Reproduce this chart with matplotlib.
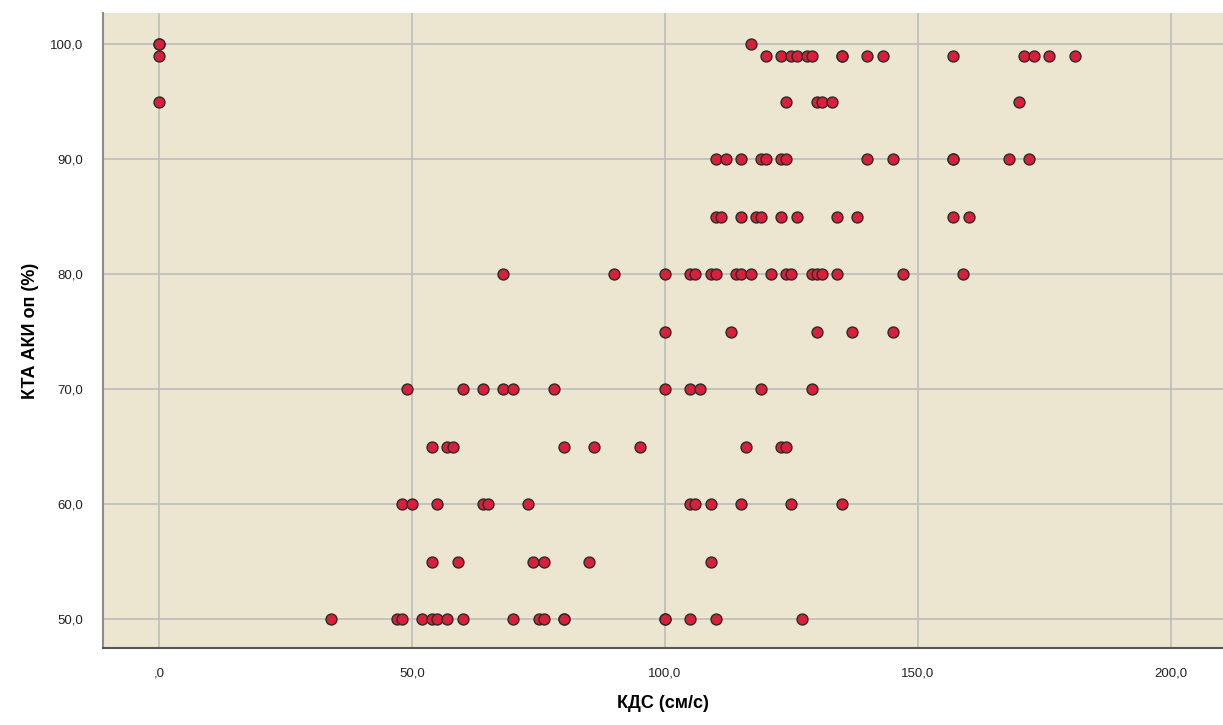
import matplotlib
matplotlib.use("Agg")
import matplotlib.pyplot as plt
from matplotlib.ticker import FixedLocator

# Data: КДС (см/с) vs КТА АКИ оп (%)
kds_100 = [0, 0, 117]
kds_99 = [0, 120, 123, 125, 126, 128, 129, 135, 135, 140, 143, 157, 171, 173, 176, 181]
kds_95 = [0, 124, 130, 131, 133, 170]
kds_90 = [110, 112, 115, 119, 120, 123, 124, 140, 145, 157, 157, 168, 172]
kds_85 = [110, 111, 115, 118, 119, 123, 126, 134, 138, 157, 160]
kds_80 = [68, 90, 100, 105, 106, 109, 110, 114, 115, 117, 121, 124, 125, 129, 130, 131, 134, 147, 159]
kds_75 = [100, 113, 130, 137, 145]
kds_70 = [49, 60, 64, 68, 70, 78, 100, 105, 107, 119, 129]
kds_65 = [54, 57, 58, 80, 86, 95, 116, 123, 124]
kds_60 = [48, 50, 55, 64, 65, 73, 105, 106, 109, 115, 125, 135]
kds_55 = [54, 59, 74, 76, 85, 109]
kds_50 = [34, 47, 48, 52, 54, 55, 57, 60, 70, 75, 76, 80, 80, 100, 100, 105, 110, 127]

kta_levels = [100, 99, 95, 90, 85, 80, 75, 70, 65, 60, 55, 50]
kds_groups = [kds_100, kds_99, kds_95, kds_90, kds_85, kds_80, kds_75,
              kds_70, kds_65, kds_60, kds_55, kds_50]

x_ticks = [0, 50, 100, 150, 200]
x_ticklabels = [",0", "50,0", "100,0", "150,0", "200,0"]
y_ticks = [50, 60, 70, 80, 90, 100]
y_ticklabels = ["50,0", "60,0", "70,0", "80,0", "90,0", "100,0"]

xs, ys = [], []
for lvl, grp in zip(kta_levels, kds_groups):
    xs.extend(grp)
    ys.extend([lvl] * len(grp))

plt.rcParams['font.family'] = ['Liberation Sans', 'DejaVu Sans']

fig = plt.figure(figsize=(12.23, 7.25), dpi=100)
fig.patch.set_facecolor('white')
ax = fig.add_axes([103 / 1223, 1 - 648 / 725, 1 - 103 / 1223, (648 - 13) / 725])
ax.set_facecolor('#ECE5D0')

ax.set_xlim(-11.1, 210.3)
ax.set_ylim(47.5, 102.7)

ax.xaxis.set_major_locator(FixedLocator(x_ticks))
ax.yaxis.set_major_locator(FixedLocator(y_ticks))
ax.set_xticklabels(x_ticklabels)
ax.set_yticklabels(y_ticklabels)
ax.tick_params(axis='both', length=0, labelsize=9.5, colors='#222222')
ax.tick_params(axis='x', pad=14)
ax.tick_params(axis='y', pad=14)

ax.grid(True, color='#BDBDBD', linewidth=1.2)
ax.set_axisbelow(True)

for s in ['top', 'right']:
    ax.spines[s].set_visible(False)
ax.spines['left'].set_color('#8C8C8C')
ax.spines['left'].set_linewidth(1.5)
ax.spines['bottom'].set_color('#555555')
ax.spines['bottom'].set_linewidth(1.5)

ax.scatter(xs, ys, s=62, facecolor='#DA1F3A', edgecolor='#2A2A2A',
           linewidth=1.0, zorder=3)

ax.set_xlabel('КДС (см/с)', fontsize=13, fontweight='bold', labelpad=11)
ax.set_ylabel('КТА АКИ оп (%)', fontsize=13, fontweight='bold', labelpad=8)

fig.savefig('out.png', dpi=100)
